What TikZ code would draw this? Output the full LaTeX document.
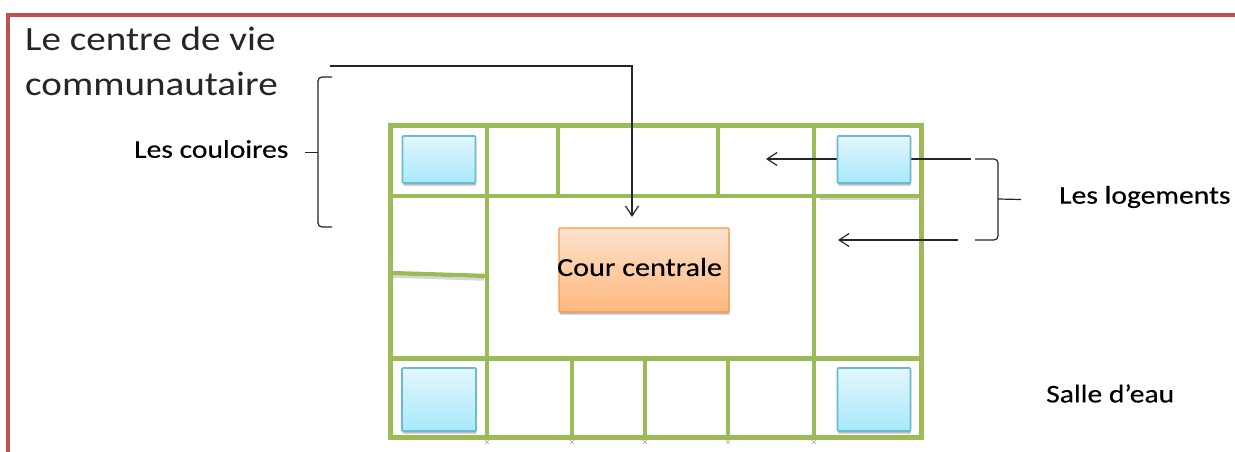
\documentclass[tikz,border=0pt]{standalone}
\usepackage{fontspec}
\setmainfont{Carlito}
\newfontfamily\titlefont[FakeStretch=1.15]{Carlito}
\newfontfamily\labfont[FakeStretch=1.16,FakeBold=0.35]{Carlito}
\usetikzlibrary{arrows.meta,shadows}
\definecolor{framered}{HTML}{C0504D}
\definecolor{wallgreen}{HTML}{9BBB59}
\definecolor{bluetop}{HTML}{E3F6FC}
\definecolor{bluebot}{HTML}{A8E9FB}
\definecolor{blueedge}{HTML}{6CBAD0}
\definecolor{orgtop}{HTML}{FCE2CC}
\definecolor{orgbot}{HTML}{FDB77E}
\definecolor{orgedge}{HTML}{F79646}
\tikzset{
 x=1pt,y=-1pt,
 wall/.style={draw=wallgreen,line width=5pt,line cap=round},
 thinwall/.style={draw=wallgreen,line width=4.3pt},
 wallshade/.style={draw=black!40,line width=2.5pt,opacity=.4},
 speck/.style={draw=black!35,line width=.6pt},
 bath/.style={draw=blueedge,line width=1.6pt,top color=bluetop,bottom color=bluebot,rounded corners=1pt,inner sep=0pt,
   drop shadow={shadow xshift=0.5pt,shadow yshift=-2.5pt,fill=black!50,opacity=.5}},
 court/.style={draw=orgedge,line width=1.4pt,top color=orgtop,bottom color=orgbot,rounded corners=1pt,inner sep=0pt,
   drop shadow={shadow xshift=0.5pt,shadow yshift=-2.5pt,fill=black!50,opacity=.5}},
 lead/.style={draw=black!85,line width=1.2pt},
 arr/.style={lead,-{Straight Barb[length=10pt,width=13pt,line width=1.2pt]}},
 brace/.style={draw=black!85,line width=1.2pt,rounded corners=4pt},
 big/.style={font=\titlefont\fontsize{34}{45}\selectfont,text=black!85,align=left,inner sep=0pt,anchor=north west},
 lab/.style={font=\labfont\fontsize{25.5}{30}\selectfont,text=black,inner sep=0pt},
}
\begin{document}
\begin{tikzpicture}
\useasboundingbox (0,0) rectangle (1235,452);
\fill[white] (0,0) rectangle (1235,452);
% frame
\coordinate (fb) at (8,452);
\coordinate (ft) at (8,15);
\coordinate (fr) at (1235,15);
\draw[draw=framered,line width=4pt] (fb) -- (ft) -- (fr);
% title
\node[big] (title) at (25,27) {Le centre de vie\\communautaire};
% walls
\draw[wallshade] (820,198.5) -- (918,198.5);
\draw[wallshade] (392,276.5) -- (484,279.5);
\draw[wall] (390,125) rectangle (921,437);
\draw[thinwall] (390,196) -- (921,196);
\draw[thinwall] (390,358.5) -- (921,358.5);
\draw[thinwall] (487,125) -- (487,437);
\draw[thinwall] (814,125) -- (814,437);
\draw[thinwall] (558,125) -- (558,196);
\draw[thinwall] (718,125) -- (718,196);
\draw[thinwall] (390,273) -- (487,276);
\draw[thinwall] (572,358) -- (572,437);
\draw[thinwall] (645,358) -- (645,437);
\draw[thinwall] (728,358) -- (728,437);
% specks under the bottom wall
\foreach \sx in {487,572,645,728,814}{
  \draw[speck] (\sx-2,440) -- (\sx+2,444) (\sx-2,444) -- (\sx+2,440);
}
% connectors
\coordinate (t0) at (330,66);
\coordinate (t1) at (632,66);
\coordinate (t2) at (632,217);
\draw[arr] (t0) -- (t1) -- (t2);
\coordinate (a1s) at (971,159);
\coordinate (a1e) at (766,159);
\draw[arr] (a1s) -- (a1e);
\coordinate (a2s) at (958,240);
\coordinate (a2e) at (838,240);
\draw[arr] (a2s) -- (a2e);
% blue and orange rooms
\node[bath,minimum width=73pt,minimum height=47pt] (b1) at (439,159.5) {};
\node[bath,minimum width=73pt,minimum height=47pt] (b2) at (874,159.5) {};
\node[bath,minimum width=74pt,minimum height=63pt] (b3) at (439,399.5) {};
\node[bath,minimum width=73pt,minimum height=63pt] (b4) at (874,399.5) {};
\node[court,minimum width=170pt,minimum height=84pt] (cc) at (644,270) {};
\node[lab,font=\labfont\fontsize{26}{30}\selectfont] (cct) at (639.5,267) {Cour centrale};
% left brace
\coordinate (lt) at (332,77);
\coordinate (lb) at (332,227);
\coordinate (lm) at (318,152.5);
\coordinate (lo) at (305,152.5);
\draw[brace] (lt) -- (318,77) -- (lm) -- (318,227) -- (lb);
\draw[lead] (lo) -- (lm);
% right brace
\coordinate (rt) at (975,159);
\coordinate (rb) at (975,240);
\coordinate (rm) at (998,199);
\coordinate (ro) at (1021,199.5);
\draw[brace] (rt) -- (998,159) -- (rm) -- (998,240) -- (rb);
\draw[lead] (rm) -- (ro);
% labels
\node[lab,anchor=west] (lc) at (134,149) {Les couloires};
\node[lab,anchor=west] (ll) at (1059,197) {Les logements};
\node[lab,anchor=west] (se) at (1046,393.5) {Salle d’eau};
\end{tikzpicture}
\end{document}
